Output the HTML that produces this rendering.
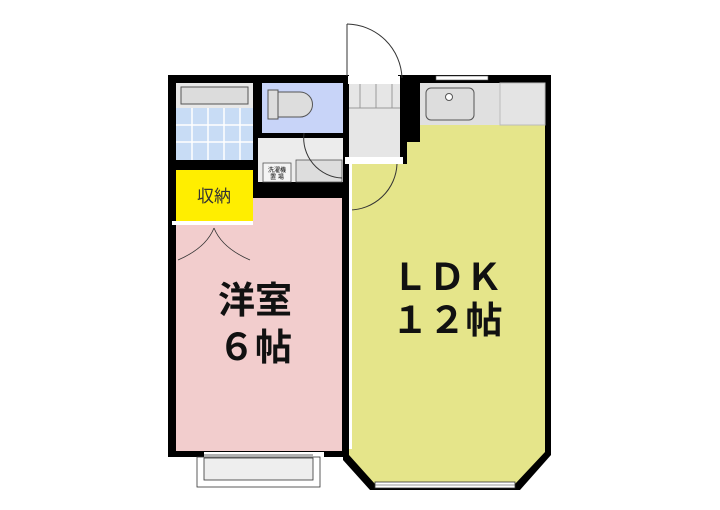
<!DOCTYPE html>
<html><head><meta charset="utf-8"><style>
html,body{margin:0;padding:0;background:#fff;width:720px;height:510px;overflow:hidden}
svg{display:block}
text{font-family:"Liberation Sans","Noto Sans CJK JP",sans-serif}
</style></head><body>
<svg width="720" height="510" viewBox="0 0 720 510">
<!-- outer wall base -->
<rect x="168" y="75" width="175" height="382" fill="#000"/>
<polygon points="343,140 420,140 420,75 551,75 551,455 520,490 370,490 343,460" fill="#000"/>
<rect x="343" y="75" width="6" height="100" fill="#000"/>
<rect x="398" y="75" width="22" height="68" fill="#000"/>
<rect x="398" y="140" width="10" height="30" fill="#000"/>
<!-- bath -->
<rect x="176" y="83" width="77" height="77" fill="#c8dcf5"/>
<rect x="176" y="83" width="77" height="25" fill="#e8e8e8"/>
<rect x="181" y="87" width="67" height="17" fill="#dcdcdc" stroke="#555" stroke-width="1"/>
<g stroke="#fff" stroke-width="1.5"><line x1="192" y1="108" x2="192" y2="160"/><line x1="208" y1="108" x2="208" y2="160"/><line x1="224" y1="108" x2="224" y2="160"/><line x1="240" y1="108" x2="240" y2="160"/><line x1="176" y1="125" x2="253" y2="125"/><line x1="176" y1="142" x2="253" y2="142"/></g>
<!-- toilet -->
<rect x="262" y="83" width="81" height="50" fill="#c8d4f8"/>
<path d="M270,92 h30 a12,12 0 0 1 0,25 h-30 z" fill="#ddd" stroke="#555"/>
<rect x="268" y="90" width="10" height="29" fill="#ddd" stroke="#555"/>
<!-- washroom -->
<rect x="258" y="138" width="85" height="44" fill="#ececec"/>
<rect x="263" y="163" width="28" height="19" fill="#f4f4f4" stroke="#555" stroke-width="0.8"/>
<text x="277" y="172" font-size="6" text-anchor="middle">洗濯機</text>
<text x="277" y="179" font-size="6" text-anchor="middle">置 場</text>
<rect x="296" y="160" width="46" height="22" fill="#ddd" stroke="#555" stroke-width="0.8"/>
<path d="M304,133 A40,40 0 0 0 342,178" fill="none" stroke="#333" stroke-width="1"/>
<!-- storage -->
<rect x="176" y="170" width="77" height="52" fill="#ffee00"/>
<text x="214" y="202" font-size="17" text-anchor="middle" fill="#333">収納</text>
<rect x="172" y="221" width="85" height="4" fill="#fff"/>
<!-- western room -->
<rect x="176" y="225" width="77" height="226" fill="#f2cdcd"/>
<rect x="253" y="198" width="89" height="253" fill="#f2cdcd"/>
<path d="M214,228 Q206,248 178,260 M214,228 Q222,248 250,260" fill="none" stroke="#333" stroke-width="0.8"/>
<text x="255" y="313" font-size="37" font-weight="bold" text-anchor="middle" fill="#111">洋室</text>
<text x="255" y="360" font-size="37" font-weight="bold" text-anchor="middle" fill="#111">６帖</text>
<!-- balcony -->
<rect x="204" y="452" width="120" height="8" fill="#fff"/>
<rect x="197" y="457" width="123" height="30" fill="#fff" stroke="#333" stroke-width="0.8"/>
<rect x="204" y="458" width="109" height="22" fill="#eee" stroke="#333" stroke-width="0.8"/>
<line x1="204" y1="455" x2="313" y2="455" stroke="#333" stroke-width="0.8"/>
<!-- entry -->
<rect x="349" y="82" width="51" height="80" fill="#e6e6e6"/>
<rect x="345" y="157" width="58" height="7" fill="#fff"/>
<rect x="348" y="76" width="52" height="8" fill="#fff"/>
<g stroke="#999" stroke-width="1"><line x1="360" y1="84" x2="360" y2="108"/><line x1="376" y1="84" x2="376" y2="108"/><line x1="392" y1="84" x2="392" y2="108"/><line x1="349" y1="108" x2="400" y2="108"/></g>
<path d="M347,24 A56,56 0 0 1 402,78" fill="none" stroke="#333" stroke-width="1"/>
<line x1="347" y1="24" x2="347" y2="76" stroke="#333"/>
<!-- LDK -->
<polygon points="420,125 545,125 545,452 515,484 375,484 349,455 349,164 407,164 407,142 420,142" fill="#e5e58a"/>
<path d="M349,210 A48,48 0 0 0 397,164" fill="none" stroke="#333" stroke-width="1"/>
<rect x="349" y="164" width="3" height="285" fill="#fff"/>
<!-- kitchen -->
<rect x="420" y="83" width="125" height="42" fill="#e0e0e0"/>
<rect x="500" y="83" width="45" height="42" fill="#e4e4e4" stroke="#bbb"/>
<rect x="426" y="88" width="48" height="32" rx="5" fill="#ddd" stroke="#555"/>
<circle cx="449" cy="97" r="3.5" fill="#fff" stroke="#555"/>
<rect x="436" y="76" width="52" height="4" fill="#fff" stroke="#555" stroke-width="0.6"/>
<text x="447" y="290" font-size="37" font-weight="bold" text-anchor="middle" fill="#111">ＬＤＫ</text>
<text x="447" y="333" font-size="37" font-weight="bold" text-anchor="middle" fill="#111">１２帖</text>
<!-- LDK bottom window -->
<rect x="375" y="482" width="140" height="6" fill="#fff" stroke="#333" stroke-width="0.8"/>
<line x1="375" y1="485" x2="515" y2="485" stroke="#333" stroke-width="0.6"/>
</svg>
</body></html>
